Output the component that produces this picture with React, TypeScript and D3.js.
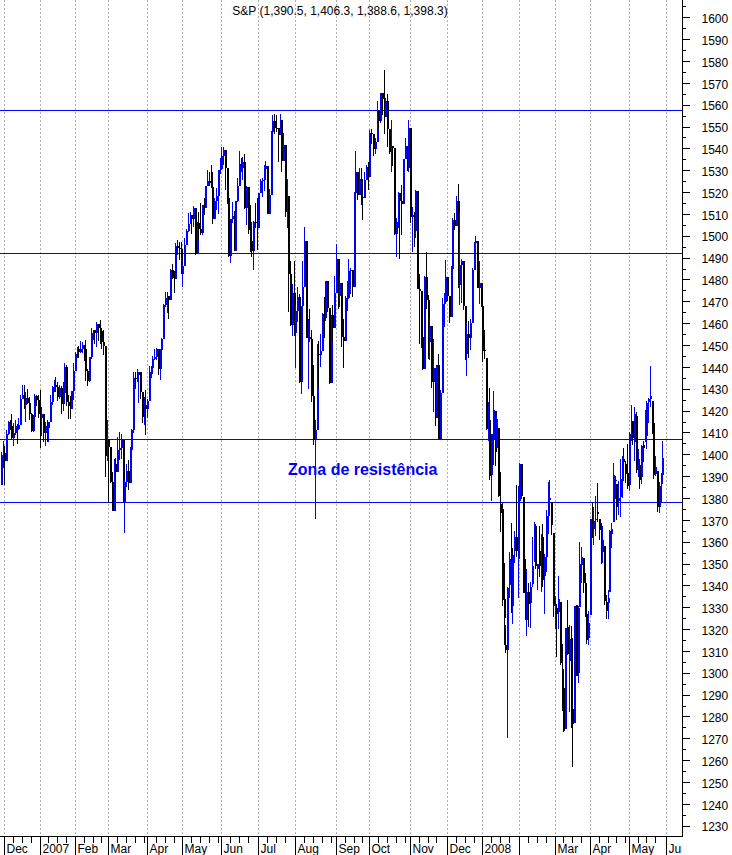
import React from "react";
import * as d3 from "d3";

// ---------- DATA (S&P 500 daily OHLC, one inner array per month) ----------
const monthLabels = ["", "Dec", "2007", "Feb", "Mar", "Apr", "May", "Jun", "Jul", "Aug", "Sep", "Oct", "Nov", "Dec", "2008", "", "Mar", "Apr", "May"];
const trailingLabel = "Jun";
const title = "S&P (1,390.5, 1,406.3, 1,388.6, 1,398.3)";
const levels = [1557.7, 1492.1, 1406.9, 1378.2];
const zoneLabel = "Zona de resistência";
const zoneValue = 1390.6;

const opens = [
  [1386.1, 1399.5],
  [1400.6,1396.7,1409.1,1414.8,1412.9,1407.3,1409.8,1413.0,1411.6,1413.2,1425.5,1427.1,1422.5,1425.6,1423.5,1418.3,1410.8,1416.9,1426.8,1424.7],
  [1418.3,1416.6,1418.3,1409.7,1412.8,1412.1,1414.9,1423.8,1430.7,1431.9,1430.6,1426.4,1430.5,1423.0,1428.0,1440.1,1423.9,1422.2,1420.6,1428.8],
  [1438.2,1445.9,1448.4,1447.0,1448.0,1450.0,1448.3,1438.1,1433.4,1444.3,1455.3,1456.8,1455.5,1459.7,1457.6,1456.4,1451.2,1449.4,1399.0],
  [1406.8,1403.2,1387.2,1374.1,1395.4,1392.0,1401.9,1402.8,1406.6,1378.0,1387.2,1392.3,1386.9,1402.1,1410.9,1435.0,1434.5,1436.1,1437.5,1428.6,1417.2,1422.5],
  [1420.9,1424.6,1437.8,1439.4,1443.8,1444.6,1448.4,1438.9,1447.8,1452.9,1468.5,1471.5,1472.5,1470.7,1484.4,1480.9,1480.4,1495.4,1494.3,1494.1],
  [1482.4,1486.3,1495.9,1502.4,1505.6,1509.5,1507.7,1512.6,1491.5,1505.9,1503.2,1501.2,1514.1,1512.8,1522.8,1525.1,1524.1,1522.3,1507.5,1515.7,1518.1,1530.2],
  [1530.6,1536.3,1539.2,1531.0,1517.4,1490.7,1507.7,1509.1,1493.0,1515.7,1523.0,1532.9,1531.1,1533.7,1512.8,1522.2,1502.6,1497.7,1492.9,1506.3,1505.7],
  [1503.4,1519.4,1524.9,1525.4,1530.4,1531.9,1510.1,1518.8,1547.7,1552.5,1549.5,1549.4,1546.2,1553.1,1534.1,1541.6,1511.0,1518.1,1482.7,1459.0,1473.9],
  [1455.3,1465.8,1472.2,1433.1,1467.7,1476.7,1497.5,1453.1,1453.6,1452.9,1426.5,1406.7,1411.3,1445.9,1445.6,1447.1,1464.1,1462.5,1479.4,1466.8,1432.4,1463.8,1457.6],
  [1474.0,1489.4,1472.3,1478.6,1453.6,1451.7,1471.5,1471.6,1484.0,1484.3,1476.7,1519.8,1529.0,1518.8,1525.8,1517.7,1517.2,1525.4,1531.4],
  [1526.8,1547.0,1546.6,1539.6,1542.8,1557.6,1552.6,1565.2,1562.5,1554.4,1561.8,1548.7,1538.5,1541.2,1540.1,1500.6,1506.3,1519.6,1515.9,1514.4,1535.3,1541.0,1531.0],
  [1549.4,1508.4,1509.7,1502.2,1520.3,1475.6,1474.8,1453.7,1439.2,1481.1,1470.6,1451.2,1458.7,1433.3,1439.7,1416.8,1440.7,1407.2,1428.2,1469.0,1469.7],
  [1481.1,1472.4,1462.8,1485.0,1507.3,1504.7,1516.0,1477.7,1486.6,1488.4,1468.0,1445.9,1455.0,1453.0,1460.1,1484.5,1496.5,1497.7,1476.3,1478.5],
  [1468.0,1447.6,1444.0,1414.1,1415.7,1390.3,1406.8,1419.9,1402.9,1411.9,1377.4,1374.8,1333.9,1312.9,1310.4,1340.1,1357.3,1330.7,1355.9,1362.2,1352.0],
  [1378.6,1395.4,1380.3,1339.5,1324.0,1336.9,1331.9,1340.6,1353.1,1367.3,1347.5,1355.9,1348.4,1362.2,1344.2,1352.8,1371.8,1379.0,1378.2,1364.1],
  [1330.5,1329.6,1327.7,1332.2,1301.5,1293.2,1274.4,1321.1,1305.3,1316.1,1283.2,1277.2,1331.0,1299.7,1330.3,1349.1,1352.5,1341.0,1327.0,1315.9],
  [1326.4,1370.0,1365.7,1369.9,1373.7,1370.2,1365.5,1355.4,1358.0,1332.2,1331.7,1337.0,1363.4,1369.0,1387.7,1386.4,1378.4,1380.5,1387.8,1398.0,1395.6,1391.2],
  [1386.0,1409.2,1415.3,1405.6,1417.5,1394.3,1394.9,1389.4,1404.4,1405.7,1408.4,1423.9,1425.3,1424.5,1414.1,1390.8,1392.2,1376.0,1386.5,1390.5],
];

const highs = [
  [1401.1, 1406.3],
  [1403.8,1411.2,1415.3,1415.9,1418.3,1414.1,1415.6,1413.8,1416.6,1427.2,1431.6,1431.8,1428.3,1430.0,1426.4,1418.8,1417.9,1427.7,1427.3,1427.0],
  [1429.4,1421.8,1418.3,1414.9,1415.6,1415.0,1427.1,1431.2,1433.9,1435.3,1432.9,1431.6,1431.4,1432.9,1441.6,1440.7,1427.3,1426.9,1428.8,1441.6],
  [1446.6,1449.3,1449.4,1452.0,1451.6,1450.0,1452.5,1439.1,1444.4,1457.7,1457.0,1456.8,1460.5,1459.7,1461.6,1456.4,1456.9,1449.4,1415.9],
  [1406.8,1403.2,1391.9,1397.9,1398.5,1407.9,1410.2,1409.3,1406.6,1388.1,1395.7,1397.5,1403.2,1411.5,1437.8,1437.7,1438.9,1437.7,1437.5,1428.6,1426.2,1429.2],
  [1425.5,1440.6,1440.2,1444.9,1448.1,1448.7,1448.4,1448.0,1453.1,1468.6,1474.4,1474.2,1472.5,1484.7,1487.3,1483.8,1496.6,1498.0,1497.3,1497.2],
  [1487.3,1499.1,1503.3,1510.3,1511.0,1509.5,1513.8,1512.6,1506.2,1510.9,1514.8,1514.2,1517.1,1522.8,1529.9,1529.2,1532.4,1529.3,1517.4,1521.8,1530.2,1535.6],
  [1540.6,1540.5,1539.2,1531.0,1517.4,1507.8,1515.5,1511.3,1515.7,1526.5,1538.7,1535.4,1535.9,1537.3,1522.9,1522.2,1514.3,1506.1,1506.8,1514.8,1517.5],
  [1519.5,1526.0,1526.4,1532.4,1534.3,1531.9,1521.2,1547.9,1555.1,1555.9,1555.3,1549.4,1555.9,1553.1,1547.2,1541.6,1526.0,1518.1,1488.5,1477.9,1488.3],
  [1468.4,1476.4,1473.2,1467.7,1488.3,1503.9,1497.5,1462.0,1466.3,1456.7,1440.8,1415.9,1450.3,1451.8,1455.0,1464.8,1472.1,1479.4,1479.4,1466.8,1463.8,1468.4,1481.5],
  [1496.4,1489.4,1481.5,1478.6,1462.0,1472.5,1479.5,1489.6,1485.4,1484.3,1519.9,1538.7,1529.0,1530.9,1530.9,1518.4,1529.4,1532.5,1533.7],
  [1548.3,1549.0,1546.6,1544.8,1561.9,1557.6,1565.3,1565.4,1576.1,1563.0,1564.7,1548.7,1552.9,1541.2,1540.1,1508.1,1520.0,1519.6,1523.2,1535.3,1544.7,1541.0,1552.8],
  [1549.4,1513.2,1510.8,1521.0,1520.3,1482.5,1474.8,1464.9,1481.4,1492.8,1472.7,1462.2,1458.7,1452.6,1439.7,1440.9,1446.1,1429.5,1471.4,1473.8,1488.9],
  [1481.2,1472.4,1486.1,1508.0,1510.6,1518.0,1523.6,1511.4,1489.4,1488.4,1468.0,1460.2,1461.2,1461.8,1485.4,1497.0,1499.8,1497.7,1488.3,1478.5],
  [1471.8,1456.8,1444.0,1423.9,1430.3,1409.2,1429.1,1419.9,1417.9,1411.9,1392.0,1377.7,1350.3,1322.0,1339.1,1355.2,1368.6,1354.0,1364.9,1385.9,1385.6],
  [1396.0,1395.4,1380.3,1352.0,1347.3,1341.2,1341.4,1362.1,1369.2,1368.2,1350.0,1367.3,1363.7,1367.9,1354.3,1374.4,1387.3,1388.3,1378.2,1364.1],
  [1335.1,1331.0,1344.2,1332.2,1313.2,1295.0,1320.7,1333.3,1321.7,1321.5,1287.9,1330.7,1331.0,1330.7,1359.7,1357.5,1352.5,1345.6,1334.9,1328.3],
  [1370.2,1378.0,1375.7,1380.9,1386.7,1370.2,1368.4,1367.2,1358.0,1335.6,1337.7,1365.5,1368.6,1395.9,1390.2,1386.4,1387.9,1397.7,1399.1,1402.9,1397.0,1404.6],
  [1410.1,1422.7,1415.3,1421.6,1419.5,1402.4,1394.9,1404.1,1406.3,1420.2,1424.4,1425.8,1440.2,1424.5,1419.1,1399.1,1392.2,1387.4,1391.3,1406.3],
];

const lows = [
  [1386.1, 1393.8],
  [1385.9,1396.7,1408.8,1411.1,1406.8,1403.7,1408.6,1404.8,1411.3,1413.2,1425.5,1420.6,1414.9,1423.2,1415.9,1410.3,1410.4,1416.6,1422.1,1416.8],
  [1403.0,1408.4,1405.8,1403.9,1405.4,1405.4,1414.8,1422.6,1428.6,1428.6,1424.2,1425.2,1418.4,1419.8,1428.0,1422.3,1416.0,1416.0,1420.6,1424.8],
  [1437.9,1443.9,1443.9,1446.4,1446.5,1442.9,1433.4,1431.4,1433.2,1443.6,1452.3,1450.5,1449.2,1452.0,1450.5,1448.4,1445.5,1389.4,1396.7],
  [1377.8,1386.9,1374.0,1374.1,1389.8,1392.0,1397.3,1398.0,1377.7,1364.0,1385.2,1383.6,1386.9,1400.7,1409.8,1429.9,1433.2,1423.3,1425.5,1414.1,1413.3,1408.9],
  [1416.4,1424.6,1435.1,1436.7,1443.3,1443.0,1436.2,1433.9,1444.0,1452.8,1467.2,1464.5,1462.0,1470.7,1480.2,1473.7,1480.4,1491.4,1488.7,1482.3],
  [1476.7,1486.3,1495.6,1501.8,1505.5,1500.7,1503.8,1491.4,1491.5,1498.3,1500.4,1500.3,1509.3,1512.8,1522.7,1522.6,1521.9,1505.2,1507.5,1512.0,1510.1,1528.4],
  [1530.6,1532.4,1520.8,1514.7,1490.4,1487.4,1505.8,1492.9,1493.0,1515.5,1523.0,1529.3,1525.7,1512.4,1504.8,1500.7,1492.7,1490.5,1484.2,1503.4,1493.6],
  [1503.4,1519.4,1517.7,1520.5,1527.5,1510.0,1510.1,1518.7,1544.9,1546.7,1547.7,1533.7,1546.2,1529.2,1534.1,1508.6,1503.6,1465.3,1458.9,1454.3,1454.3],
  [1439.6,1460.6,1432.8,1427.4,1455.8,1476.7,1453.1,1429.7,1451.5,1423.9,1404.4,1370.6,1411.3,1430.5,1439.8,1447.1,1453.4,1460.9,1465.0,1432.0,1432.4,1451.3,1457.6],
  [1474.0,1466.7,1467.4,1449.1,1439.3,1451.7,1465.8,1471.4,1473.2,1471.8,1476.7,1519.8,1516.4,1518.8,1514.0,1507.1,1517.2,1525.4,1521.0],
  [1526.8,1542.2,1536.5,1537.6,1542.8,1549.0,1551.8,1555.5,1546.7,1554.4,1540.8,1537.3,1529.3,1531.8,1500.3,1490.4,1503.6,1489.6,1500.5,1514.4,1535.3,1529.8,1529.4],
  [1506.0,1492.5,1494.8,1499.1,1475.6,1450.3,1448.5,1438.5,1439.2,1466.5,1443.5,1443.0,1430.5,1419.3,1412.8,1416.8,1406.8,1407.2,1428.2,1458.4,1469.7],
  [1470.1,1460.1,1462.8,1482.2,1502.7,1504.7,1476.0,1468.2,1469.2,1466.0,1443.3,1435.7,1443.9,1447.7,1460.1,1484.5,1487.1,1476.2,1468.6,1467.5],
  [1442.1,1443.7,1411.2,1406.0,1388.3,1378.7,1395.3,1394.8,1402.9,1380.6,1364.3,1330.7,1312.5,1309.0,1270.0,1334.3,1327.5,1322.3,1350.3,1353.0,1334.1],
  [1375.9,1379.7,1336.6,1324.3,1316.8,1321.1,1320.3,1339.4,1350.8,1347.3,1338.1,1344.0,1336.8,1339.1,1327.0,1346.0,1363.3,1372.0,1363.2,1325.4],
  [1320.0,1307.4,1320.2,1303.4,1282.4,1272.7,1274.4,1307.9,1282.1,1274.9,1257.0,1277.2,1298.4,1295.2,1330.3,1341.2,1336.4,1325.7,1313.0,1312.8],
  [1326.4,1361.6,1358.7,1362.8,1369.0,1360.6,1350.0,1350.1,1331.2,1324.4,1324.4,1337.0,1357.3,1369.0,1379.3,1369.8,1372.2,1371.1,1380.0,1394.4,1386.7,1384.0],
  [1383.1,1406.3,1404.4,1397.1,1391.2,1389.4,1384.1,1386.2,1396.3,1405.7,1402.6,1414.4,1421.6,1409.1,1388.8,1390.2,1373.7,1373.1,1378.2,1388.6],
];

const closes = [
  [1399.5, 1400.6],
  [1396.7,1409.1,1414.8,1412.9,1407.3,1409.8,1413.0,1411.6,1413.2,1425.5,1427.1,1422.5,1425.6,1423.5,1418.3,1410.8,1416.9,1426.8,1424.7,1418.3],
  [1416.6,1418.3,1409.7,1412.8,1412.1,1414.9,1423.8,1430.7,1431.9,1430.6,1426.4,1430.5,1423.0,1428.0,1440.1,1423.9,1422.2,1420.6,1428.8,1438.2],
  [1445.9,1448.4,1447.0,1448.0,1450.0,1448.3,1438.1,1433.4,1444.3,1455.3,1456.8,1455.5,1459.7,1457.6,1456.4,1451.2,1449.4,1399.0,1406.8],
  [1403.2,1387.2,1374.1,1395.4,1392.0,1401.9,1402.8,1406.6,1378.0,1387.2,1392.3,1386.9,1402.1,1410.9,1435.0,1434.5,1436.1,1437.5,1428.6,1417.2,1422.5,1420.9],
  [1424.6,1437.8,1439.4,1443.8,1444.6,1448.4,1438.9,1447.8,1452.9,1468.5,1471.5,1472.5,1470.7,1484.4,1480.9,1480.4,1495.4,1494.3,1494.1,1482.4],
  [1486.3,1495.9,1502.4,1505.6,1509.5,1507.7,1512.6,1491.5,1505.9,1503.2,1501.2,1514.1,1512.8,1522.8,1525.1,1524.1,1522.3,1507.5,1515.7,1518.1,1530.2,1530.6],
  [1536.3,1539.2,1531.0,1517.4,1490.7,1507.7,1509.1,1493.0,1515.7,1523.0,1532.9,1531.1,1533.7,1512.8,1522.2,1502.6,1497.7,1492.9,1506.3,1505.7,1503.4],
  [1519.4,1524.9,1525.4,1530.4,1531.9,1510.1,1518.8,1547.7,1552.5,1549.5,1549.4,1546.2,1553.1,1534.1,1541.6,1511.0,1518.1,1482.7,1459.0,1473.9,1455.3],
  [1465.8,1472.2,1433.1,1467.7,1476.7,1497.5,1453.1,1453.6,1452.9,1426.5,1406.7,1411.3,1445.9,1445.6,1447.1,1464.1,1462.5,1479.4,1466.8,1432.4,1463.8,1457.6,1474.0],
  [1489.4,1472.3,1478.6,1453.6,1451.7,1471.5,1471.6,1484.0,1484.3,1476.7,1519.8,1529.0,1518.8,1525.8,1517.7,1517.2,1525.4,1531.4,1526.8],
  [1547.0,1546.6,1539.6,1542.8,1557.6,1552.6,1565.2,1562.5,1554.4,1561.8,1548.7,1538.5,1541.2,1540.1,1500.6,1506.3,1519.6,1515.9,1514.4,1535.3,1541.0,1531.0,1549.4],
  [1508.4,1509.7,1502.2,1520.3,1475.6,1474.8,1453.7,1439.2,1481.1,1470.6,1451.2,1458.7,1433.3,1439.7,1416.8,1440.7,1407.2,1428.2,1469.0,1469.7,1481.1],
  [1472.4,1462.8,1485.0,1507.3,1504.7,1516.0,1477.7,1486.6,1488.4,1468.0,1445.9,1455.0,1453.0,1460.1,1484.5,1496.5,1497.7,1476.3,1478.5,1468.4],
  [1447.2,1447.2,1411.6,1416.2,1390.2,1409.1,1420.3,1401.0,1416.3,1381.0,1373.2,1333.3,1325.2,1310.5,1338.6,1352.1,1330.6,1354.0,1362.3,1355.8,1378.6],
  [1395.4,1380.8,1336.6,1326.5,1336.9,1331.3,1339.1,1348.9,1367.2,1348.9,1350.0,1348.8,1360.0,1342.5,1353.1,1371.8,1381.3,1380.0,1367.7,1330.6],
  [1331.3,1326.8,1333.7,1304.3,1293.4,1273.4,1320.7,1308.8,1315.5,1288.1,1276.6,1330.7,1298.4,1329.5,1349.9,1353.0,1341.1,1325.8,1315.2,1322.7],
  [1370.2,1367.5,1369.3,1370.4,1372.5,1365.5,1354.5,1360.6,1332.8,1328.3,1334.4,1364.7,1365.6,1390.3,1388.2,1375.9,1379.9,1388.8,1397.8,1396.4,1390.9,1385.6],
  [1409.3,1413.9,1407.5,1418.3,1392.6,1397.7,1388.3,1403.6,1403.0,1408.7,1423.6,1425.4,1426.6,1413.4,1390.7,1394.4,1375.9,1385.4,1390.8,1398.3],
];

// ---------- LAYOUT ----------
const W = 732;
const H = 855;
const plotRight = 682;
const axisY = 836.5;
const FONT = "'Liberation Sans', Arial, Helvetica, sans-serif";
const BLUE = "#0000ff";

export default function App() {
  const O = opens.flat();
  const Hh = highs.flat();
  const L = lows.flat();
  const C = closes.flat();
  const n = C.length;

  // month start indices
  const monthStarts: number[] = [];
  let acc = 0;
  closes.forEach((m) => {
    monthStarts.push(acc);
    acc += m.length;
  });

  const x = d3.scaleLinear().domain([0, n + 1]).range([0.8, 665.8]);
  const y = d3.scaleLinear().domain([1230, 1600]).range([825.7, 17.3]);

  const majorTicks = d3.range(1230, 1601, 10);
  const minorTicks = d3.range(1235, 1606, 10);

  const gridIdx = monthStarts.slice(1).concat([n + 1]);
  const gridLabels = monthLabels.slice(1).concat([trailingLabel]);

  const weekTicks: number[] = [];
  monthStarts.forEach((s, k) => {
    const e = k + 1 < monthStarts.length ? monthStarts[k + 1] : n + 1;
    for (let j = s + 5; j < e - 1; j += 5) weekTicks.push(j);
  });
  const weekX = weekTicks.filter((i) => i > 1);

  const px = (i: number) => Math.round(x(i));

  const problems: string[] = [];
  [opens, highs, lows, closes].forEach((arr, a) =>
    arr.forEach((m, k) => {
      if (m.length !== closes[k].length) problems.push(`arr${a} m${k} ${m.length}/${closes[k].length}`);
    })
  );

  return (
    <svg
      width={W}
      height={H}
      style={{ position: "absolute", left: 0, top: 0, background: "#fff" }}
      fontFamily={FONT}
    >
      <defs>
        <clipPath id="plot">
          <rect x={0} y={0} width={plotRight} height={axisY} />
        </clipPath>
      </defs>
      <rect width={W} height={H} fill="#fff" />

      {/* vertical month gridlines */}
      {gridIdx.map((i, k) => (
        <line
          key={"g" + k}
          x1={px(i) + 0.5}
          x2={px(i) + 0.5}
          y1={0}
          y2={axisY}
          stroke="#b0b0b0"
          strokeDasharray="2,2"
          shapeRendering="crispEdges"
        />
      ))}

      {/* horizontal reference levels */}
      {levels.map((v, k) => (
        <line
          key={"lv" + k}
          x1={0}
          x2={plotRight}
          y1={Math.round(y(v)) + 0.5}
          y2={Math.round(y(v)) + 0.5}
          stroke={BLUE}
          strokeWidth={1}
          shapeRendering="crispEdges"
        />
      ))}

      {/* candles */}
      <g clipPath="url(#plot)" shapeRendering="crispEdges">
        {C.map((c, i) => {
          const o = O[i];
          const up = c >= o;
          const col = up ? BLUE : "#000";
          const xx = px(i);
          const yTop = Math.round(y(Math.max(o, c)));
          const yBot = Math.round(y(Math.min(o, c)));
          return (
            <g key={i}>
              <rect x={xx} y={Math.round(y(Hh[i]))} width={1} height={Math.max(1, Math.round(y(L[i])) - Math.round(y(Hh[i])))} fill={col} />
              <rect x={xx} y={yTop} width={2} height={Math.max(1, yBot - yTop)} fill={col} />
            </g>
          );
        })}
      </g>

      {/* zone label */}
      <text x={288} y={Math.round(y(zoneValue))} fill={BLUE} fontSize={16} fontWeight="bold">
        {zoneLabel}
      </text>

      {/* title */}
      <text x={340} y={15} textAnchor="middle" fontSize={12} fill="#000">
        {title}
      </text>

      {/* right axis */}
      <line x1={plotRight + 0.5} x2={plotRight + 0.5} y1={0} y2={axisY} stroke="#000" shapeRendering="crispEdges" />
      {majorTicks.map((t) => (
        <g key={"yt" + t}>
          <line x1={plotRight} x2={plotRight + 8} y1={Math.round(y(t)) + 0.5} y2={Math.round(y(t)) + 0.5} stroke="#000" shapeRendering="crispEdges" />
          <text x={701.5} y={y(t) + 5.7} fontSize={12} fill="#000">
            {t}
          </text>
        </g>
      ))}
      {minorTicks.map((t) => (
        <line key={"ym" + t} x1={plotRight} x2={plotRight + 4} y1={Math.round(y(t)) + 0.5} y2={Math.round(y(t)) + 0.5} stroke="#000" shapeRendering="crispEdges" />
      ))}

      {/* bottom axis */}
      <line x1={0} x2={plotRight} y1={axisY} y2={axisY} stroke="#000" shapeRendering="crispEdges" />
      {weekX.map((i, k) => (
        <line key={"wk" + k} x1={px(i) + 0.5} x2={px(i) + 0.5} y1={axisY} y2={axisY + 6} stroke="#000" shapeRendering="crispEdges" />
      ))}
      <g clipPath="url(#xclip)">
        <clipPath id="xclip">
          <rect x={0} y={axisY} width={plotRight} height={H - axisY} />
        </clipPath>
        {gridIdx.map((i, k) => (
          <g key={"ml" + k}>
            <line x1={px(i) + 0.5} x2={px(i) + 0.5} y1={axisY} y2={H} stroke="#000" shapeRendering="crispEdges" />
            {gridLabels[k] ? (
              <text x={px(i) + 2.5} y={853} fontSize={12} fill="#000">
                {gridLabels[k]}
              </text>
            ) : null}
          </g>
        ))}
      </g>

      {problems.length ? (
        <text x={20} y={60} fill="red" fontSize={12}>
          {problems.join(" ; ")}
        </text>
      ) : null}
    </svg>
  );
}
